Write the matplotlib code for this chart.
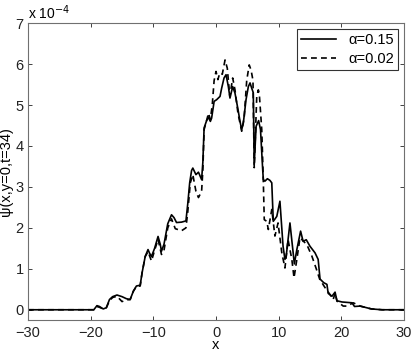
import matplotlib
matplotlib.use("Agg")
import matplotlib.pyplot as plt

plt.rcParams['font.family'] = ['Liberation Sans', 'DejaVu Sans']

# values in units of 1e-4
x_a015 = [-30, -19.5, -19.0, -18.6, -18.0, -17.5, -17.0, -16.5, -15.8, -15.0, -14.3, -13.7,
          -13.2, -12.7, -12.1, -11.8, -11.3, -10.85, -10.6, -10.3, -9.8, -9.25, -8.9, -8.7,
          -8.3, -7.7, -7.1, -6.7, -6.3, -5.5, -4.8, -4.5, -4.2, -3.9, -3.7, -3.2, -2.8, -2.3,
          -2.1, -1.9, -1.5, -1.2, -0.9, -0.7, -0.3, 0.1, 0.64, 0.9, 1.28, 1.6, 1.97, 2.23,
          2.66, 3.03, 3.5, 3.83, 4.1, 4.36, 4.79, 5.16, 5.43, 5.7, 5.95, 6.1, 6.4, 6.8, 7.1,
          7.45, 7.55, 7.8, 8.2, 8.6, 8.9, 9.14, 9.7, 10.2, 10.7, 11.0, 11.2, 11.8, 12.2, 12.5,
          12.9, 13.5, 13.9, 14.4, 15.0, 15.8, 16.3, 16.6, 17.2, 17.7, 17.9, 18.5, 19.0, 19.3,
          20.1, 21.7, 22.1, 23.0, 24.8, 26.5, 30]
psi_a015 = [0, 0, 0.1, 0.08, 0.02, 0.05, 0.25, 0.32, 0.36, 0.32, 0.27, 0.25,
            0.45, 0.58, 0.6, 0.9, 1.3, 1.47, 1.38, 1.3, 1.5, 1.79, 1.6, 1.43,
            1.6, 2.1, 2.32, 2.25, 2.13, 2.14, 2.17, 2.6, 3.1, 3.4, 3.46, 3.3, 3.36, 3.18,
            3.6, 4.44, 4.62, 4.7, 4.6, 4.68, 5.09, 5.13, 5.21, 5.41, 5.66, 5.74, 5.45, 5.17,
            5.45, 5.29, 4.9, 4.6, 4.4, 4.56, 5.13, 5.45, 5.54, 5.41, 5.3, 3.55, 4.48, 4.62, 4.4,
            3.42, 3.18, 3.14, 3.2, 3.16, 3.1, 2.16, 2.28, 2.65, 1.55, 1.23, 1.31, 2.12, 1.55, 1.12,
            1.47, 1.92, 1.67, 1.71, 1.55, 1.39, 1.23, 0.75, 0.66, 0.62, 0.4, 0.33, 0.43, 0.22,
            0.19, 0.17, 0.08, 0.09, 0.02, 0.0, 0.0]

x_a002 = [-30, -19.5, -19.0, -18.6, -18.0, -17.5, -17.0, -16.5, -15.8, -15.0, -14.3, -13.7,
          -13.2, -12.7, -12.1, -11.8, -11.3, -10.85, -10.3, -9.8, -9.25, -8.7, -8.3, -7.7,
          -7.1, -6.5, -5.5, -4.8, -4.5, -4.1, -3.7, -3.2, -2.8, -2.3, -2.1, -1.9, -1.5, -1.2,
          -0.9, -0.6, -0.3, 0.0, 0.3, 0.6, 1.0, 1.44, 1.8, 2.2, 2.66, 3.03, 3.5, 4.1, 4.5, 4.9,
          5.3, 5.6, 5.9, 6.1, 6.5, 6.75, 6.9, 7.3, 7.45, 7.55, 7.7, 8.1, 8.35, 8.9, 9.4, 9.9,
          10.5, 11.0, 11.5, 12.1, 12.45, 12.9, 13.4, 14.5, 15.3, 16.0, 16.6, 16.9, 17.4, 18.2,
          18.7, 19.0, 19.3, 20.3, 20.9, 21.9, 23.0, 24.8, 26.5, 30]
psi_a002 = [0, 0, 0.08, 0.06, 0.02, 0.05, 0.22, 0.3, 0.33, 0.2, 0.24, 0.25,
            0.45, 0.57, 0.58, 0.9, 1.3, 1.42, 1.19, 1.45, 1.72, 1.35, 1.45, 2.0,
            2.22, 1.98, 1.93, 2.0, 2.4, 3.1, 3.3, 2.89, 2.74, 2.89, 3.4, 4.4, 4.62, 4.8,
            4.65, 5.0, 5.6, 5.82, 5.62, 5.78, 5.75, 6.1, 5.9, 5.21, 5.66, 5.37, 4.8, 4.36, 4.7, 5.6,
            5.98, 5.85, 5.6, 3.47, 5.2, 5.37, 5.29, 4.4, 3.66, 3.14, 2.2, 2.16, 1.96, 2.45, 1.8, 2.12,
            1.39, 1.02, 1.71, 1.23, 0.78, 1.23, 1.76, 1.59, 1.31, 1.0, 0.72, 0.66, 0.54, 0.37,
            0.25, 0.41, 0.21, 0.09, 0.09, 0.17, 0.09, 0.02, 0.0, 0.0]

x_ticks = [-30, -20, -10, 0, 10, 20, 30]
y_ticks = [0, 1, 2, 3, 4, 5, 6, 7]

fig = plt.figure(figsize=(4.15, 3.53), dpi=100)
ax = fig.add_axes([0.0675, 0.0935, 0.906, 0.841])

ax.plot(x_a015, psi_a015, color='black', lw=1.2, ls='-', label='α=0.15')
ax.plot(x_a002, psi_a002, color='black', lw=1.2, ls=(0, (3.5, 2.5)), label='α=0.02')

ax.set_xlim(-30, 30)
ax.set_ylim(-0.25, 7)
ax.set_xticks(x_ticks)
ax.set_yticks(y_ticks)
ax.set_xticklabels([str(t).replace('-', '\u2212') for t in x_ticks])
ax.set_yticklabels([str(t) for t in y_ticks])
ax.tick_params(direction='in', top=True, right=True, length=3, width=0.6,
               labelsize=10.5, colors='#222222', pad=3)
ax.tick_params(axis='x', pad=4)
for s in ax.spines.values():
    s.set_color('#707070')
    s.set_linewidth(0.8)

ax.set_xlabel('x', fontsize=10.5, labelpad=-1)
ax.set_ylabel('ψ(x,y=0,t=34)', fontsize=10.5, labelpad=2)
ax.text(0.0, 1.005, 'x 10$^{-4}$', transform=ax.transAxes, fontsize=10,
        ha='left', va='bottom')

leg = ax.legend(loc='upper right', fontsize=10.5, frameon=True, fancybox=False,
                edgecolor='black', handlelength=2.4, borderaxespad=0.4,
                borderpad=0.3, labelspacing=0.3, handletextpad=0.8)
leg.get_frame().set_linewidth(0.8)

fig.savefig('out.png', dpi=100)
